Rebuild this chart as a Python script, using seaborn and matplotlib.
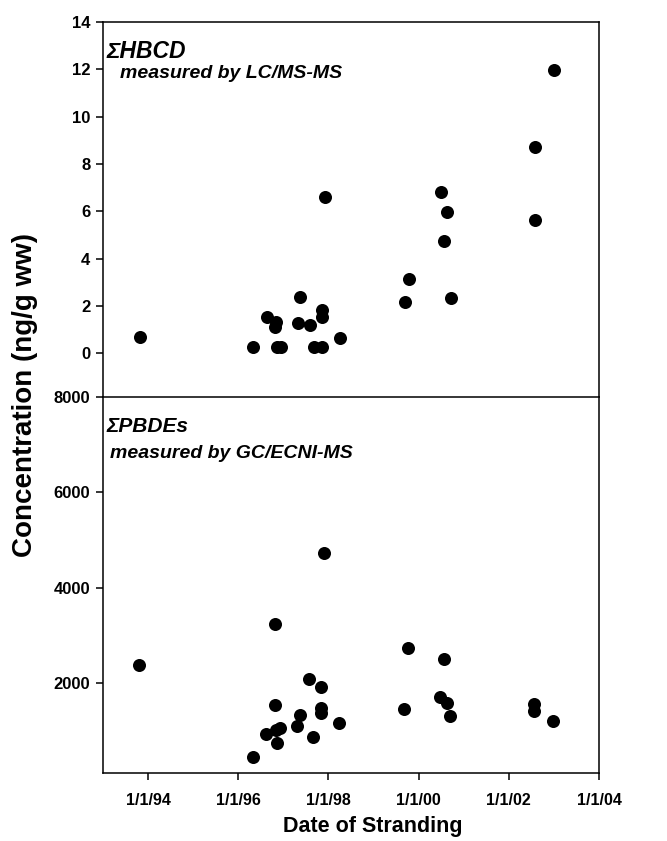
import numpy as np
import pandas as pd
import seaborn as sns
import matplotlib.pyplot as plt

# Data (date as decimal year)
hbcd_year = [1993.82, 1996.33, 1996.63, 1996.83, 1996.82, 1996.85, 1996.94,
             1997.37, 1997.32, 1997.59, 1997.67, 1997.85, 1997.85, 1997.85,
             1997.93, 1998.26, 1999.70, 1999.78, 2000.50, 2000.64, 2000.57,
             2000.72, 2002.58, 2002.58, 2003.00]
hbcd_conc = [0.70, 0.28, 1.52, 1.34, 1.12, 0.28, 0.28,
             2.39, 1.27, 1.18, 0.28, 0.28, 1.83, 1.55,
             6.62, 0.63, 2.15, 3.12, 6.80, 5.96, 4.76,
             2.32, 8.72, 5.65, 11.96]

pbde_year = [1993.80, 1996.32, 1996.62, 1996.85, 1996.83, 1996.93, 1996.81,
             1996.81, 1997.31, 1997.37, 1997.58, 1997.65, 1997.84, 1997.84,
             1997.84, 1997.91, 1998.24, 1999.68, 1999.76, 2000.48, 2000.63,
             2000.70, 2000.56, 2002.57, 2002.57, 2002.99]
pbde_conc = [2375, 458, 944, 750, 1027, 1062, 1542,
             3250, 1110, 1340, 2096, 888, 1917, 1479,
             1388, 4735, 1181, 1458, 2750, 1721, 1596,
             1325, 2506, 1569, 1429, 1215]

x_ticks = [1994, 1996, 1998, 2000, 2002, 2004]
x_ticklabels = ["1/1/94", "1/1/96", "1/1/98", "1/1/00", "1/1/02", "1/1/04"]
hbcd_ticks = [0, 2, 4, 6, 8, 10, 12, 14]
pbde_ticks = [2000, 4000, 6000, 8000]

hbcd = pd.DataFrame({"year": hbcd_year, "conc": hbcd_conc})
pbde = pd.DataFrame({"year": pbde_year, "conc": pbde_conc})

sns.set_theme(style="white")
plt.rcParams["font.family"] = ["Liberation Sans", "DejaVu Sans"]
plt.rcParams["font.weight"] = "bold"
plt.rcParams["text.color"] = "black"
plt.rcParams["axes.labelcolor"] = "black"
plt.rcParams["xtick.color"] = "black"
plt.rcParams["ytick.color"] = "black"
plt.rcParams["axes.linewidth"] = 1.1
plt.rcParams["axes.edgecolor"] = "black"

fig = plt.figure(figsize=(6.67, 8.41), dpi=100)
ax1 = fig.add_axes([0.1544, 0.5285, 0.7436, 0.4453])
ax2 = fig.add_axes([0.1544, 0.0805, 0.7436, 0.4480])

sns.scatterplot(data=hbcd, x="year", y="conc", ax=ax1, color="black",
                s=88, edgecolor="black", linewidth=0)
sns.scatterplot(data=pbde, x="year", y="conc", ax=ax2, color="black",
                s=88, edgecolor="black", linewidth=0)

for ax in (ax1, ax2):
    ax.set_xlim(1993.0, 2004.0)
    ax.set_xlabel("")
    ax.set_ylabel("")
    for sp in ax.spines.values():
        sp.set_visible(True)
        sp.set_color("black")
    ax.tick_params(axis="y", direction="out", length=5, width=1.1,
                   pad=4, labelsize=12, left=True, colors="black")

ax1.set_ylim(-1.83, 14)
ax1.set_yticks(hbcd_ticks)
ax1.set_xticks([])
ax1.spines["bottom"].set_visible(False)

ax2.set_ylim(120, 8000)
ax2.set_yticks(pbde_ticks)
ax2.set_xticks(x_ticks)
ax2.set_xticklabels(x_ticklabels)
ax2.tick_params(axis="x", direction="out", length=5, width=1.1, pad=9,
                labelsize=11.5, bottom=True, colors="black")
for lab in ax1.get_yticklabels() + ax2.get_yticklabels() + ax2.get_xticklabels():
    lab.set_fontweight("bold")

# panel annotations
ax1.text(0.008, 0.904, "ΣHBCD", transform=ax1.transAxes, fontsize=16.5,
         fontweight="bold", fontstyle="italic", va="baseline", ha="left")
ax1.text(0.035, 0.850, "measured by LC/MS-MS", transform=ax1.transAxes,
         fontsize=14, fontweight="bold", fontstyle="italic", va="baseline",
         ha="left")
ax2.text(0.008, 0.906, "ΣPBDEs", transform=ax2.transAxes, fontsize=15,
         fontweight="bold", fontstyle="italic", va="baseline", ha="left")
ax2.text(0.014, 0.836, "measured by GC/ECNI-MS", transform=ax2.transAxes,
         fontsize=14, fontweight="bold", fontstyle="italic", va="baseline",
         ha="left")

fig.text(0.0375, 0.53, "Concentration (ng/g ww)", rotation=90, fontsize=20,
         fontweight="bold", ha="center", va="center")
fig.text(0.559, 0.0045, "Date of Stranding", fontsize=15.5,
         fontweight="bold", ha="center", va="bottom")

fig.savefig("out.png", dpi=100, facecolor="white")
